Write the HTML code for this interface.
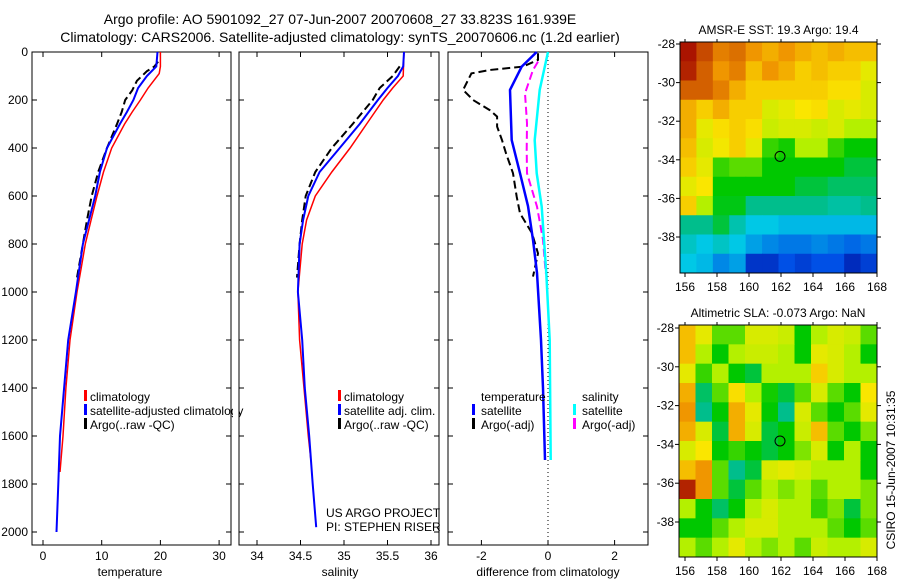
<!DOCTYPE html>
<html><head><meta charset="utf-8"><style>
body{margin:0;background:#fff;}
svg{display:block;font-family:"Liberation Sans",sans-serif;}
</style></head><body>
<svg id="fig" width="900" height="580" viewBox="0 0 900 580">
<text x="340" y="24" font-size="14" text-anchor="middle">Argo profile: AO 5901092_27 07-Jun-2007 20070608_27 33.823S 161.939E</text>
<text x="340" y="42" font-size="14" text-anchor="middle">Climatology: CARS2006. Satellite-adjusted climatology: synTS_20070606.nc (1.2d earlier)</text>
</svg>
<script>
// ---- profile data ----
const tempClimDepth=[0,60,90,150,200,250,300,400,500,600,700,800,900,1000,1200,1400,1600,1750];
const tempClim=[20.0,20.0,19.8,17.9,16.6,15.2,13.9,11.7,10.3,9.2,8.2,7.2,6.5,5.8,4.6,3.9,3.4,2.9];
const tempSatDepth=[0,60,100,150,200,250,300,400,500,600,800,1000,1200,1400,1600,1800,2000];
const tempSat=[19.5,19.3,17.7,16.2,15.4,14.3,13.1,10.9,9.7,8.9,6.8,5.6,4.3,3.6,2.9,2.6,2.3];
const tempArgoDepth=[40,60,80,120,160,200,250,300,400,500,600,700,800,940];
const tempArgo=[19.6,19.0,17.7,16.0,15.2,14.0,13.4,12.6,10.9,9.4,8.3,7.5,6.8,5.8];
const salClimDepth=[0,100,150,200,300,400,500,600,700,800,1000,1200,1400,1600,1700];
const salClim=[35.69,35.68,35.56,35.45,35.26,35.07,34.86,34.67,34.57,34.52,34.47,34.49,34.54,34.59,34.62];
const salSatDepth=[0,60,100,150,200,300,400,500,600,700,800,1000,1200,1400,1600,1800,1980];
const salSat=[35.69,35.68,35.62,35.5,35.39,35.18,34.95,34.72,34.59,34.53,34.49,34.47,34.52,34.55,34.6,34.64,34.68];
const salArgoDepth=[60,100,150,200,300,400,500,600,700,800,940];
const salArgo=[35.64,35.56,35.41,35.33,35.1,34.86,34.67,34.56,34.52,34.49,34.46];
const dTsatDepth=[0,61,158,367,505,642,783,921,1200,1400,1700];
const dTsat=[-0.34,-0.79,-1.14,-1.09,-0.84,-0.6,-0.45,-0.33,-0.21,-0.15,-0.09];
const dSsatDepth=[0,158,367,505,644,922,1200,1700];
const dSsat=[0.0,-0.25,-0.4,-0.34,-0.19,-0.05,0.05,0.08];
const dSargoDepth=[40,75,172,297,408,505,644,783,922];
const dSargo=[-0.3,-0.45,-0.69,-0.63,-0.64,-0.63,-0.33,-0.15,-0.07];
const dTargoDepth=[5,33,61,75,89,158,200,242,269,311,367,422,505,603,672,755,839,936];
const dTargo=[-0.3,-0.3,-0.75,-1.75,-2.3,-2.55,-2.25,-1.75,-1.53,-1.53,-1.38,-1.26,-1.05,-0.94,-0.84,-0.48,-0.3,-0.45];
const depthTicks=[0,200,400,600,800,1000,1200,1400,1600,1800,2000];
const tempTicks=[0,10,20,30];
const salTicks=[34,34.5,35,35.5,36];
const diffTicks=[-2,0,2];
// ---- map data (colour index 0..1, 12x12 cells covering the map extent) ----
const sstGrid=[
[0.92,0.85,0.78,0.8,0.75,0.72,0.75,0.72,0.7,0.72,0.7,0.7],
[0.9,0.82,0.75,0.78,0.7,0.75,0.72,0.68,0.7,0.68,0.68,0.62],
[0.82,0.82,0.78,0.72,0.68,0.68,0.68,0.68,0.68,0.66,0.66,0.6],
[0.72,0.68,0.72,0.68,0.68,0.6,0.62,0.65,0.66,0.6,0.62,0.6],
[0.72,0.62,0.66,0.68,0.66,0.58,0.6,0.6,0.58,0.6,0.55,0.55],
[0.7,0.6,0.64,0.68,0.62,0.48,0.46,0.55,0.55,0.48,0.45,0.45],
[0.68,0.62,0.48,0.5,0.5,0.45,0.45,0.45,0.45,0.45,0.42,0.42],
[0.62,0.65,0.45,0.45,0.45,0.45,0.45,0.42,0.42,0.4,0.4,0.4],
[0.68,0.55,0.44,0.44,0.38,0.38,0.38,0.38,0.38,0.36,0.36,0.38],
[0.38,0.38,0.42,0.35,0.3,0.3,0.28,0.28,0.28,0.28,0.28,0.28],
[0.33,0.3,0.33,0.3,0.25,0.22,0.2,0.2,0.22,0.2,0.18,0.2],
[0.3,0.28,0.22,0.25,0.1,0.1,0.15,0.12,0.15,0.15,0.08,0.12]];
const slaGrid=[
[0.7,0.62,0.5,0.5,0.6,0.6,0.58,0.45,0.55,0.6,0.58,0.5],
[0.7,0.55,0.45,0.55,0.58,0.58,0.55,0.45,0.62,0.6,0.55,0.45],
[0.62,0.48,0.55,0.45,0.42,0.55,0.55,0.55,0.68,0.6,0.55,0.55],
[0.72,0.4,0.5,0.66,0.55,0.46,0.42,0.5,0.6,0.5,0.45,0.65],
[0.75,0.38,0.45,0.72,0.62,0.45,0.38,0.6,0.5,0.45,0.5,0.62],
[0.72,0.6,0.42,0.72,0.6,0.42,0.45,0.58,0.7,0.5,0.45,0.52],
[0.6,0.65,0.45,0.48,0.45,0.42,0.45,0.52,0.6,0.45,0.55,0.45],
[0.7,0.75,0.5,0.38,0.42,0.6,0.62,0.6,0.55,0.55,0.55,0.45],
[0.9,0.75,0.5,0.42,0.5,0.55,0.52,0.55,0.5,0.55,0.55,0.52],
[0.55,0.45,0.4,0.45,0.55,0.6,0.55,0.55,0.48,0.52,0.42,0.52],
[0.45,0.45,0.5,0.55,0.6,0.6,0.55,0.55,0.55,0.5,0.45,0.5],
[0.55,0.5,0.55,0.62,0.55,0.52,0.55,0.5,0.58,0.55,0.55,0.6]];
const lonTicks=[156,158,160,162,164,166,168];
const latTicks=[-28,-30,-32,-34,-36,-38];
const argoLon=161.939, argoLat=-33.823;

const NS='http://www.w3.org/2000/svg';
const svg=document.getElementById('fig');
function el(t,a,parent){const e=document.createElementNS(NS,t);for(const k in a)e.setAttribute(k,a[k]);(parent||svg).appendChild(e);return e;}
const TOP=52, PB=545, yD=d=>TOP+d*0.24;
const xT=v=>43+5.87*v, xS=v=>257+87*(v-34), xD=v=>548+33.3*v;

function panel(x0,x1,name){
  const r=el('rect',{x:x0,y:TOP,width:x1-x0,height:PB-TOP,fill:'none',stroke:'#000','stroke-width':1});
  
  
  depthTicks.forEach(d=>{
    const t1=el('line',{x1:x0,x2:x0+5,y1:yD(d),y2:yD(d),stroke:'#000'});
    
    
    const t2=el('line',{x1:x1-5,x2:x1,y1:yD(d),y2:yD(d),stroke:'#000'});
    
    
  });
}
function xticks(ticks,fx,labelFn){
  ticks.forEach(v=>{
    const x=fx(v);
    const a=el('line',{x1:x,x2:x,y1:PB,y2:PB-5,stroke:'#000'});
    
    
    const b=el('line',{x1:x,x2:x,y1:TOP,y2:TOP+5,stroke:'#000'});
    
    
    const t=el('text',{x:x,y:560,'font-size':12,'text-anchor':'middle'});t.textContent=labelFn(v);
    
    
  });
}
function line(ds,vs,fx,color,w,dash,name){
  const p=ds.map((d,i)=>fx(vs[i]).toFixed(1)+','+yD(d).toFixed(1)).join(' ');
  const l=el('polyline',{points:p,fill:'none',stroke:color,'stroke-width':w});
  if(dash)l.setAttribute('stroke-dasharray',dash);
  
  
}
function txt(x,y,s,size,name,extra){const t=el('text',Object.assign({x:x,y:y,'font-size':size},extra||{}));t.textContent=s;
  
  return t;}
function legendMark(x,y,color){const r=el('rect',{x:x,y:y-10,width:3,height:11,fill:color});
  
  }

// panel 1
panel(32,231,'temperature-panel');
depthTicks.forEach(d=>{txt(28,yD(d)+4,String(d),12,'depth-tick-label',{'text-anchor':'end'});});
xticks(tempTicks,xT,v=>String(v));
txt(130,576,'temperature',12,'x-axis-title-temperature',{'text-anchor':'middle'});
line(tempClimDepth,tempClim,xT,'#f00',1.5,null,'temp-climatology-line');
line(tempArgoDepth,tempArgo,xT,'#000',2,'8,4','temp-argo-line');
line(tempSatDepth,tempSat,xT,'#00f',2,null,'temp-satellite-line');
legendMark(84,400,'#f00');txt(90,401,'climatology',12,'legend-climatology');
legendMark(84,414,'#00f');txt(90,415,'satellite-adjusted climatology',12,'legend-satellite-adjusted');
legendMark(84,428,'#000');txt(90,429,'Argo(..raw -QC)',12,'legend-argo');

// panel 2
el('rect',{x:233,y:TOP,width:6,height:PB-TOP,fill:'#fff'});
panel(239,439,'salinity-panel');
xticks(salTicks,xS,v=>String(v));
txt(340,576,'salinity',12,'x-axis-title-salinity',{'text-anchor':'middle'});
line(salClimDepth,salClim,xS,'#f00',1.5,null,'sal-climatology-line');
line(salArgoDepth,salArgo,xS,'#000',2,'8,4','sal-argo-line');
line(salSatDepth,salSat,xS,'#00f',2,null,'sal-satellite-line');
legendMark(338,400,'#f00');txt(344,401,'climatology',12,'legend-sal-climatology');
legendMark(338,414,'#00f');txt(344,415,'satellite adj. clim.',12,'legend-sal-satellite');
legendMark(338,428,'#000');txt(344,429,'Argo(..raw -QC)',12,'legend-sal-argo');
txt(326,517,'US ARGO PROJECT',12,'project-note');
txt(326,531,'PI: STEPHEN RISER',12,'pi-note');

// panel 3
panel(448,648,'difference-panel');
xticks(diffTicks,xD,v=>String(v));
txt(548,576,'difference from climatology',12,'x-axis-title-difference',{'text-anchor':'middle'});
const zl=el('line',{x1:xD(0),x2:xD(0),y1:TOP,y2:PB,stroke:'#000','stroke-dasharray':'1,3'});


line(dTargoDepth,dTargo,xD,'#000',2,'8,4','dT-argo-line');
line(dSargoDepth,dSargo,xD,'#f0f',2,'8,4','dS-argo-line');
line(dSsatDepth,dSsat,xD,'#0ff',2.5,null,'dS-satellite-line');
line(dTsatDepth,dTsat,xD,'#00f',2.5,null,'dT-satellite-line');
txt(481,401,'temperature',12,'legend-temperature-header');
legendMark(472,414,'#00f');txt(481,415,'satellite',12,'legend-temp-satellite');
legendMark(472,428,'#000');txt(481,429,'Argo(-adj)',12,'legend-temp-argo');
txt(582,401,'salinity',12,'legend-salinity-header');
legendMark(573,414,'#0ff');txt(582,415,'satellite',12,'legend-sal-satellite-diff');
legendMark(573,428,'#f0f');txt(582,429,'Argo(-adj)',12,'legend-sal-argo-diff');

// colormap
const cmStops=[[0,[0,0,140]],[0.15,[0,80,230]],[0.3,[0,200,230]],[0.38,[0,190,140]],[0.45,[0,200,0]],[0.55,[180,240,0]],[0.65,[250,230,0]],[0.75,[240,150,0]],[0.92,[170,20,0]],[1,[140,0,0]]];
function cmap(v){
  for(let i=1;i<cmStops.length;i++){
    if(v<=cmStops[i][0]){const a=cmStops[i-1],b=cmStops[i],t=(v-a[0])/(b[0]-a[0]);
      const c=a[1].map((x,k)=>Math.round(x+(b[1][k]-x)*t));return `rgb(${c})`;}
  }
  return 'rgb(140,0,0)';
}
function map(grid,x0,x1,yTop,yBot,lat28y,lat38y,title,name){
  const fx=lon=>685+(lon-156)*16;
  const py=(lat38y-lat28y)/10;
  const fy=lat=>lat28y+(-28-lat)*py;
  const g=el('g',{});
  
  
  const nr=grid.length, nc=grid[0].length;
  const cw=(x1-x0)/nc, ch=(yBot-yTop)/nr;
  grid.forEach((row,i)=>row.forEach((v,j)=>{
    const c=el('rect',{x:x0+j*cw,y:yTop+i*ch,width:cw+0.5,height:ch+0.5,fill:cmap(v)},g);
    
    
  }));
  el('rect',{x:x0,y:yTop,width:x1-x0,height:yBot-yTop,fill:'none',stroke:'#000'},g);
  const ring=el('circle',{cx:fx(argoLon),cy:fy(argoLat),r:5,fill:'none',stroke:'#000'},g);
  
  
  lonTicks.forEach(l=>{
    el('line',{x1:fx(l),x2:fx(l),y1:yBot,y2:yBot+4,stroke:'#000'},g);
    el('line',{x1:fx(l),x2:fx(l),y1:yTop,y2:yTop-3,stroke:'#000'},g);
    const t=el('text',{x:fx(l),y:yBot+18,'font-size':12,'text-anchor':'middle'},g);t.textContent=l;
    
    
  });
  latTicks.forEach(l=>{
    el('line',{x1:x0-4,x2:x0,y1:fy(l),y2:fy(l),stroke:'#000'},g);
    el('line',{x1:x1,x2:x1+4,y1:fy(l),y2:fy(l),stroke:'#000'},g);
    const t=el('text',{x:x0-5,y:fy(l)+4,'font-size':12,'text-anchor':'end'},g);t.textContent=l;
    
    
  });
  const tt=el('text',{x:(x0+x1)/2,y:yTop-8,'font-size':12,'text-anchor':'middle'},g);tt.textContent=title;
  
  
}
map(sstGrid,680,877,42,273,44,237,'AMSR-E SST: 19.3 Argo: 19.4','sst-map');
map(slaGrid,679,877,325,557,328,522,'Altimetric SLA: -0.073 Argo: NaN','sla-map');
txt(0,0,'CSIRO 15-Jun-2007 10:31:35',12,'timestamp-label',{'text-anchor':'middle',transform:'translate(895,470) rotate(-90)'});
</script>
</body></html>
